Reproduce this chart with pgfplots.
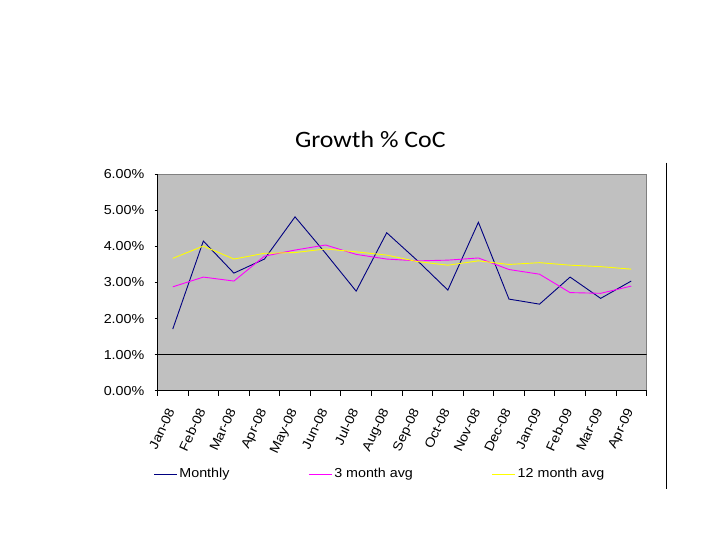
\documentclass[border=0pt]{standalone}
\usepackage{pgfplots}
\pgfplotsset{compat=1.18}
\usepackage{fontspec}
\setmainfont{Liberation Sans}
\newfontfamily\arialx[FakeStretch=1.1]{Liberation Sans}
\newfontfamily\calibri[FakeStretch=1.1]{Carlito}
\definecolor{plotbg}{RGB}{192,192,192}
\definecolor{navyline}{RGB}{0,0,128}
\definecolor{magline}{RGB}{255,0,255}
\definecolor{yelline}{RGB}{255,255,0}
\definecolor{frame}{RGB}{128,128,128}
\begin{document}
\begin{tikzpicture}
\path[use as bounding box, fill=white] (0,0) rectangle (720bp,540bp);
\node[anchor=base, inner sep=0pt, font=\calibri\fontsize{23.5bp}{28bp}\selectfont] at (370.3bp,392.7bp) {Growth \% CoC};
\draw[line width=0.8bp] (666.7bp,377.3bp) -- (666.7bp,50.7bp);
\begin{axis}[
  at={(157.5bp,149.3bp)}, anchor=south west,
  scale only axis, width=489bp, height=216.4bp,
  xmin=-0.5, xmax=15.5, ymin=0, ymax=6,
  axis lines=left,
  axis line style={-, black, line width=0.8bp},
  axis background/.style={fill=plotbg, draw=frame, line width=0.8bp},
  xtick={0,...,15},
  xticklabels={Jan-08,Feb-08,Mar-08,Apr-08,May-08,Jun-08,Jul-08,Aug-08,Sep-08,Oct-08,Nov-08,Dec-08,Jan-09,Feb-09,Mar-09,Apr-09},
  major x tick style={draw=none},
  minor xtick={-0.5,0.5,...,15.5},
  minor x tick style={black, line width=0.8bp},
  minor tick length=5bp,
  ytick={0,1,2,3,4,5,6},
  yticklabels={0.00\%,1.00\%,2.00\%,3.00\%,4.00\%,5.00\%,6.00\%},
  tick align=outside,
  major tick length=3bp,
  major y tick style={black, line width=0.8bp},
  ticklabel style={font=\arialx\fontsize{13bp}{15bp}\selectfont},
  xticklabel style={xshift=-6bp, yshift=-13bp, rotate=65, anchor=north east, inner sep=0pt},
  yticklabel style={anchor=east, inner sep=0pt, xshift=-10bp},
  legend style={at={(0.455,-0.385)}, anchor=center, draw=none, fill=none,
    legend columns=3, font=\arialx\fontsize{13bp}{15bp}\selectfont,
    /tikz/every even column/.append style={column sep=77bp}},
  legend image code/.code={\draw[#1, line width=0.8bp] (0bp,0bp) -- (23bp,0bp);},
]
\addplot[navyline, line width=0.9bp] coordinates {
(0,1.71) (1,4.15) (2,3.26) (3,3.65) (4,4.82) (5,3.81) (6,2.76) (7,4.38)
(8,3.61) (9,2.79) (10,4.67) (11,2.54) (12,2.40) (13,3.15) (14,2.56) (15,3.04)};
\addlegendentry{Monthly}
\addplot[magline, line width=0.9bp] coordinates {
(0,2.88) (1,3.15) (2,3.04) (3,3.73) (4,3.90) (5,4.04) (6,3.78) (7,3.65)
(8,3.60) (9,3.62) (10,3.68) (11,3.36) (12,3.23) (13,2.72) (14,2.70) (15,2.90)};
\addlegendentry{3 month avg}
\addplot[yelline, line width=0.9bp] coordinates {
(0,3.67) (1,4.01) (2,3.65) (3,3.81) (4,3.83) (5,3.93) (6,3.85) (7,3.76)
(8,3.58) (9,3.48) (10,3.60) (11,3.50) (12,3.55) (13,3.48) (14,3.44) (15,3.37)};
\addlegendentry{12 month avg}
\addplot[black, line width=0.9bp, forget plot] coordinates {(-0.5,1) (15.5,1)};
\end{axis}
\end{tikzpicture}
\end{document}
